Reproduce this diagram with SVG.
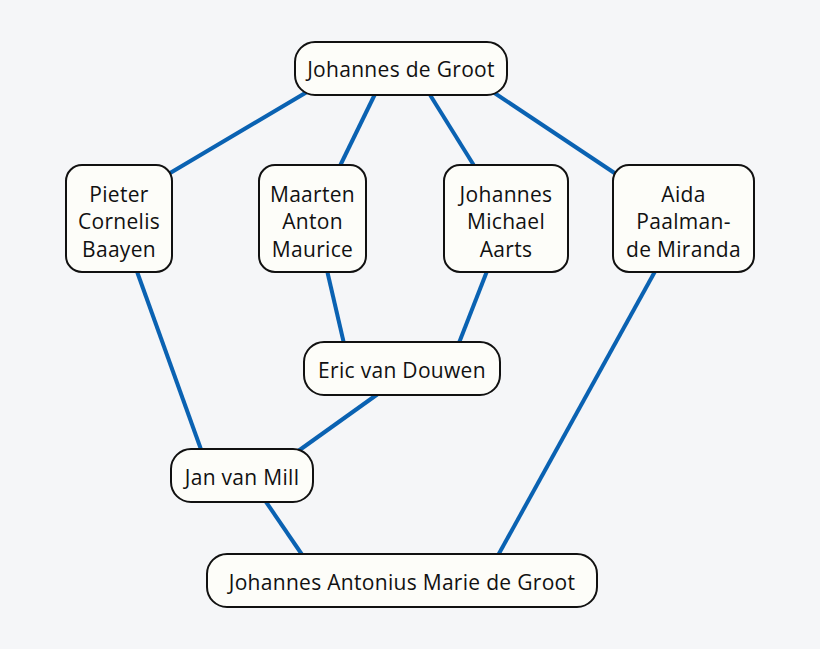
<svg xmlns="http://www.w3.org/2000/svg" width="820" height="649" viewBox="0 0 820 649">
<style>
.bg{fill:#f5f6f8}
.node rect{fill:#fdfdf9;stroke:#111;stroke-width:2}
.node text{font-family:"Open Sans","Noto Sans","DejaVu Sans",sans-serif;font-size:21px;letter-spacing:0.3px;fill:#111;text-anchor:middle}
.edges line{stroke:#0a62b2;stroke-width:4;stroke-linecap:butt}
</style>
<rect class="bg" x="0" y="0" width="820" height="649"/>
<g id="connectors" class="edges">
<line x1="312" y1="89" x2="160" y2="179"/>
<line x1="377" y1="90" x2="337" y2="172"/>
<line x1="427" y1="90" x2="478" y2="172"/>
<line x1="490" y1="90" x2="622" y2="178"/>
<line x1="135" y1="266" x2="203" y2="455"/>
<line x1="326" y1="266" x2="345" y2="348"/>
<line x1="489" y1="266" x2="457" y2="348"/>
<line x1="382" y1="391" x2="294" y2="454"/>
<line x1="262" y1="496" x2="305" y2="559"/>
<line x1="658" y1="266" x2="496" y2="559"/>
</g>
<g id="n-johannes-de-groot" class="node">
<rect x="295" y="42" width="212" height="53" rx="20"/>
<text x="401" y="76.5">Johannes de Groot</text>
</g>
<g id="n-pieter" class="node">
<rect x="66" y="165" width="106" height="107" rx="16"/>
<text x="119" y="201.5">Pieter</text>
<text x="119" y="229">Cornelis</text>
<text x="119" y="256.5">Baayen</text>
</g>
<g id="n-maarten" class="node">
<rect x="259" y="165" width="107" height="107" rx="16"/>
<text x="312.5" y="201.5">Maarten</text>
<text x="312.5" y="229">Anton</text>
<text x="312.5" y="256.5">Maurice</text>
</g>
<g id="n-jma" class="node">
<rect x="444" y="165" width="124" height="107" rx="16"/>
<text x="506" y="201.5">Johannes</text>
<text x="506" y="229">Michael</text>
<text x="506" y="256.5">Aarts</text>
</g>
<g id="n-aida" class="node">
<rect x="613" y="165" width="141" height="107" rx="16"/>
<text x="683.5" y="201.5">Aida</text>
<text x="683.5" y="229">Paalman-</text>
<text x="683.5" y="256.5">de Miranda</text>
</g>
<g id="n-eric" class="node">
<rect x="304" y="342" width="196" height="53" rx="20"/>
<text x="402" y="378">Eric van Douwen</text>
</g>
<g id="n-jan" class="node">
<rect x="171" y="449" width="142" height="53" rx="20"/>
<text x="242" y="485">Jan van Mill</text>
</g>
<g id="n-jamdg" class="node">
<rect x="207" y="554" width="390" height="53" rx="20"/>
<text x="402" y="590">Johannes Antonius Marie de Groot</text>
</g>
</svg>
